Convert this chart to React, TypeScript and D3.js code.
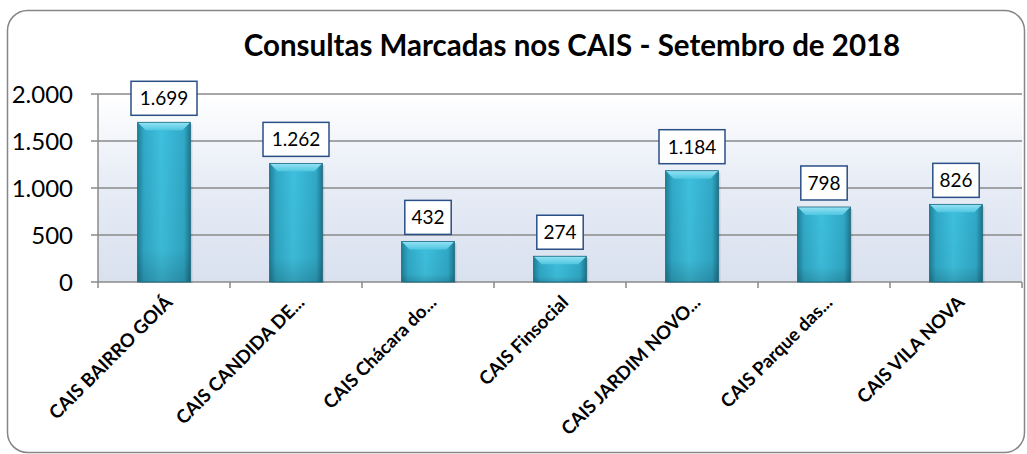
import React from "react";
import * as d3 from "d3";

// data
const categories = [
  "CAIS BAIRRO GOIÁ",
  "CAIS CANDIDA DE...",
  "CAIS Chácara do...",
  "CAIS Finsocial",
  "CAIS JARDIM NOVO...",
  "CAIS Parque das...",
  "CAIS VILA NOVA",
];
const consultas = [1699, 1262, 432, 274, 1184, 798, 826];
const yTicks = [0, 500, 1000, 1500, 2000];
const title = "Consultas Marcadas nos CAIS - Setembro de 2018";

const W = 1027;
const H = 454;
const margin = { left: 98, right: 5, top: 94, bottom: 172 };

const ptBR = d3.formatLocale({
  decimal: ",",
  thousands: ".",
  grouping: [3],
  currency: ["R$", ""],
});
const fmt = ptBR.format(",d");

const FONT = "Lato, 'Open Sans', sans-serif";

export default function App() {
  const x = d3
    .scaleBand<string>()
    .domain(categories)
    .range([margin.left, W - margin.right])
    .padding(0);
  const y = d3
    .scaleLinear()
    .domain([0, 2000])
    .range([H - margin.bottom, margin.top]);

  const barW = x.bandwidth() * 0.4;
  const bev = 8;
  const y0 = y(0);

  return (
    <svg
      width={W}
      height={H}
      style={{ position: "absolute", left: 0, top: 0, background: "#fff" }}
    >
      <defs>
        <linearGradient id="plotBg" x1="0" y1="0" x2="0" y2="1">
          <stop offset="0" stopColor="#ffffff" />
          <stop offset="0.45" stopColor="#e8edf6" />
          <stop offset="1" stopColor="#d9e1ef" />
        </linearGradient>
        <linearGradient id="barFill" x1="0" y1="0" x2="1" y2="0">
          <stop offset="0" stopColor="#1f7f98" />
          <stop offset="0.12" stopColor="#30a9c7" />
          <stop offset="0.45" stopColor="#3ec0de" />
          <stop offset="0.88" stopColor="#30a9c7" />
          <stop offset="1" stopColor="#1d768e" />
        </linearGradient>
        <linearGradient id="barShade" x1="0" y1="0" x2="0" y2="1">
          <stop offset="0" stopColor="#000" stopOpacity="0" />
          <stop offset="0.8" stopColor="#000" stopOpacity="0.04" />
          <stop offset="1" stopColor="#000" stopOpacity="0.18" />
        </linearGradient>
        <linearGradient id="bevelTop" x1="0" y1="0" x2="0" y2="1">
          <stop offset="0" stopColor="#95e3f4" />
          <stop offset="1" stopColor="#50c6e1" />
        </linearGradient>
      </defs>

      {/* chart frame */}
      <rect
        x={7.5}
        y={10.5}
        width={1017}
        height={442}
        rx={20}
        ry={20}
        fill="#fff"
        stroke="#868686"
        strokeWidth={1.5}
      />

      <text
        x={572}
        y={56}
        textAnchor="middle"
        fontFamily={FONT}
        fontWeight="bold"
        fontSize={29.5}
        fill="#000"
      >
        {title}
      </text>

      {/* plot area */}
      <rect
        x={margin.left}
        y={y(2000)}
        width={W - margin.right - margin.left}
        height={y0 - y(2000)}
        fill="url(#plotBg)"
      />

      {yTicks.map((t) => (
        <g key={t}>
          {t > 0 && (
            <line
              x1={margin.left}
              x2={W - margin.right}
              y1={y(t)}
              y2={y(t)}
              stroke="#8a8a8a"
              strokeWidth={1.5}
            />
          )}
          <line
            x1={margin.left - 7}
            x2={margin.left}
            y1={y(t)}
            y2={y(t)}
            stroke="#8a8a8a"
            strokeWidth={1.5}
          />
          <text
            x={73}
            y={y(t)}
            dy="0.36em"
            textAnchor="end"
            fontFamily={FONT}
            fontSize={24}
            fill="#000"
          >
            {fmt(t)}
          </text>
        </g>
      ))}

      {/* axes */}
      <line
        x1={margin.left}
        x2={margin.left}
        y1={y(2000)}
        y2={y0}
        stroke="#8a8a8a"
        strokeWidth={1.5}
      />
      <line
        x1={margin.left}
        x2={W - margin.right}
        y1={y0}
        y2={y0}
        stroke="#8a8a8a"
        strokeWidth={1.5}
      />
      {categories.map((c) => (
        <line
          key={"t" + c}
          x1={x(c)!}
          x2={x(c)!}
          y1={y0}
          y2={y0 + 6}
          stroke="#8a8a8a"
          strokeWidth={1.5}
        />
      ))}
      <line
        x1={W - margin.right}
        x2={W - margin.right}
        y1={y0}
        y2={y0 + 6}
        stroke="#8a8a8a"
        strokeWidth={1.5}
      />

      {/* bars */}
      {categories.map((c, i) => {
        const v = consultas[i];
        const bx = x(c)! + (x.bandwidth() - barW) / 2;
        const by = y(v);
        const bh = y0 - by;
        const cx = bx + barW / 2;
        const label = fmt(v);
        const boxW = label.length * 9.8 + 17;
        const boxH = 34;
        const boxY = by - 7 - boxH;
        return (
          <g key={c}>
            <rect
              x={bx + 2}
              y={by + 2}
              width={barW}
              height={bh - 1}
              fill="#000"
              opacity={0.12}
            />
            <rect x={bx} y={by} width={barW} height={bh} fill="url(#barFill)" />
            <rect x={bx} y={by} width={barW} height={bh} fill="url(#barShade)" />
            <polygon
              points={`${bx},${by} ${bx + barW},${by} ${bx + barW - bev},${by + bev} ${bx + bev},${by + bev}`}
              fill="url(#bevelTop)"
            />
            <rect
              x={bx}
              y={by}
              width={barW}
              height={bh}
              fill="none"
              stroke="#1b6a80"
              strokeWidth={0.8}
            />
            <rect
              x={cx - boxW / 2}
              y={boxY}
              width={boxW}
              height={boxH}
              fill="#fff"
              stroke="#2a4f86"
              strokeWidth={1.5}
            />
            <text
              x={cx}
              y={boxY + boxH / 2}
              dy="0.36em"
              textAnchor="middle"
              fontFamily={FONT}
              fontSize={19}
              fill="#000"
            >
              {label}
            </text>
          </g>
        );
      })}

      {/* category labels */}
      {categories.map((c) => {
        const cx = x(c)! + x.bandwidth() / 2;
        return (
          <text
            key={"l" + c}
            transform={`translate(${cx + 5},${y0 + 17}) rotate(-45)`}
            textAnchor="end"
            dy="0.35em"
            fontFamily={FONT}
            fontWeight="bold"
            fontSize={18.5}
            fill="#000"
          >
            {c}
          </text>
        );
      })}
    </svg>
  );
}
